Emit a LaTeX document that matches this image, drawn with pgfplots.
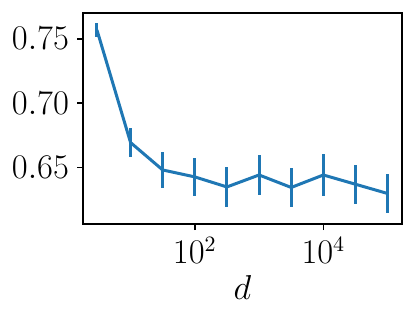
\documentclass[border=0pt]{standalone}
\usepackage{pgfplots}
\pgfplotsset{compat=1.18}
\definecolor{tabblue}{HTML}{1F77B4}
\begin{document}
\begin{tikzpicture}
\path[use as bounding box] (-41.5pt,-48pt) rectangle (166.5pt,112pt);
\begin{axis}[
    at={(0pt,0pt)}, anchor=south west,
    scale only axis,
    width=159.5pt, height=105.5pt,
    xmode=log,
    log basis x=10,
    xmin=1.82, xmax=167500,
    ymin=0.606, ymax=0.770,
    xtick={100,10000},
    minor xtick={},
    ytick={0.65,0.70,0.75},
    yticklabel style={/pgf/number format/fixed, /pgf/number format/fixed zerofill, /pgf/number format/precision=2},
    tick align=outside,
    tick pos=left,
    major tick length=3pt,
    tick style={black, line width=0.8pt},
    axis line style={black, line width=0.8pt},
    font=\fontsize{16}{19}\selectfont,
    xlabel={$d$},
    xlabel style={yshift=1pt},
    yticklabel style={xshift=-0.5pt},
]
\addplot[color=tabblue, line width=1.5pt, mark=none,
    error bars/.cd, y dir=both, y explicit,
    error mark=none, error bar style={line width=1.5pt, tabblue}]
coordinates {
    (3,0.7568) +- (0,0.0056)
    (10,0.6693) +- (0,0.0116)
    (31.6,0.6480) +- (0,0.0140)
    (100,0.6426) +- (0,0.0147)
    (316,0.6348) +- (0,0.0153)
    (1000,0.6441) +- (0,0.0155)
    (3162,0.6344) +- (0,0.0153)
    (10000,0.6441) +- (0,0.0160)
    (31623,0.6369) +- (0,0.0153)
    (100000,0.6297) +- (0,0.0154)
};
\end{axis}
\end{tikzpicture}
\end{document}
